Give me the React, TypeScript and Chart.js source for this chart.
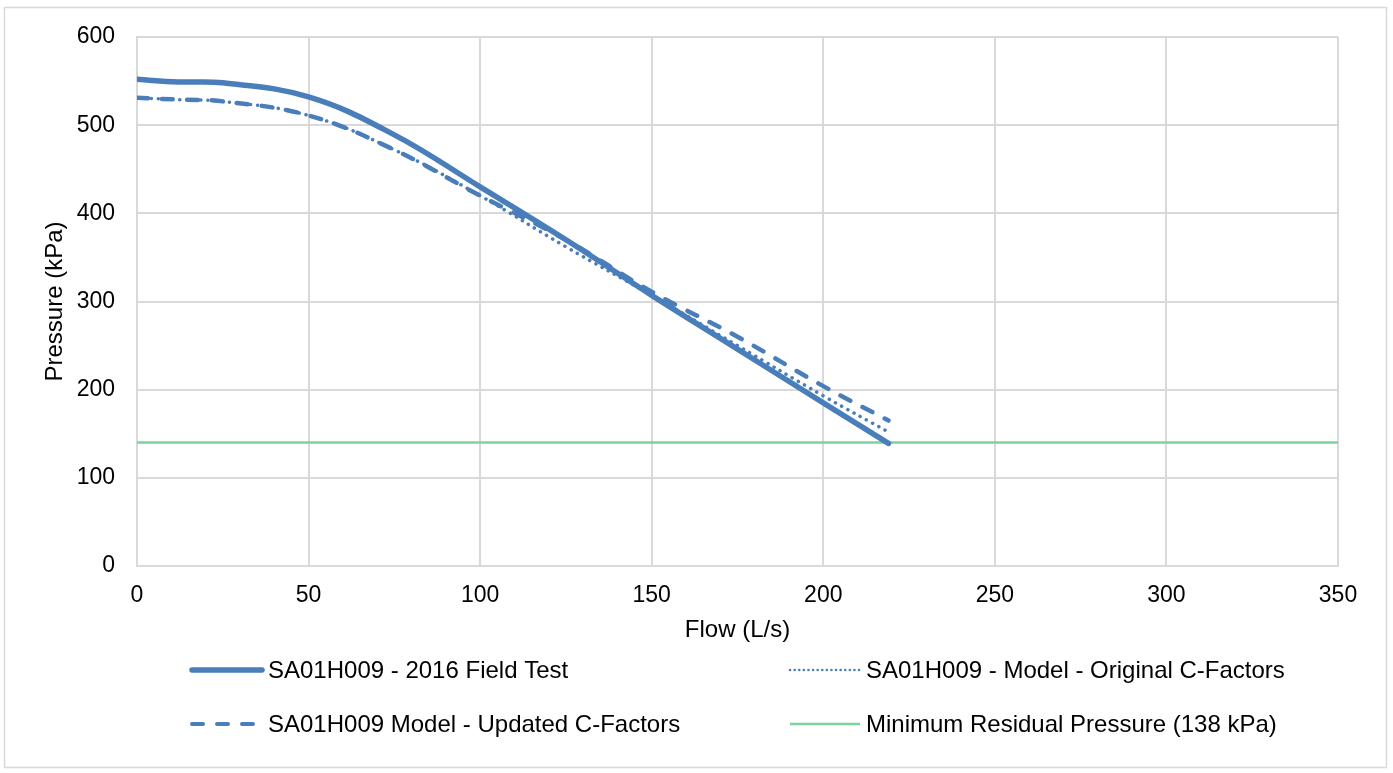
import React, { useEffect, useRef } from 'react';
import { Chart, registerables } from 'chart.js';

Chart.register(...registerables);

// ---- data ----
const flowFieldTest = [0, 12, 25, 50, 75, 100, 125, 150, 175, 200, 219];
const pressureFieldTest = [552, 549, 548, 532, 489, 430, 370, 307, 246, 185, 139];

const flowModel = [0, 12, 25, 50, 75, 100, 125, 150, 175, 200, 219];
const pressureOriginal = [531, 529, 527, 511, 472, 420, 362, 307, 250, 193, 152];
const pressureUpdated = [531, 529, 527, 511, 472, 420, 370, 311, 260, 204, 165];

const flowMinimum = [0, 350];
const pressureMinimum = [140, 140];

const seriesLabels = [
  'SA01H009 - 2016 Field Test',
  'SA01H009 - Model - Original C-Factors',
  'SA01H009 Model - Updated C-Factors',
  'Minimum Residual Pressure (138 kPa)',
];

const xTitle = 'Flow (L/s)';
const yTitle = 'Pressure (kPa)';

const BLUE = '#4a7ebb';
const GREEN = '#7dd3a0';
const GRID = '#d9d9d9';
const FONT = "'Liberation Sans', Arial, sans-serif";

const toPoints = (xs: number[], ys: number[]) => xs.map((x, i) => ({ x, y: ys[i] }));

const frameLegendPlugin = {
  id: 'frameLegend',
  beforeDraw(chart: any) {
    const { ctx, width, height } = chart;
    ctx.save();
    ctx.fillStyle = '#ffffff';
    ctx.fillRect(0, 0, width, height);
    ctx.strokeStyle = GRID;
    ctx.lineWidth = 1.5;
    ctx.strokeRect(4.5, 7.5, 1382, 760);
    ctx.restore();
  },
  afterDraw(chart: any) {
    const { ctx } = chart;
    const slots = [
      { x: 192, y: 670 },
      { x: 790, y: 670 },
      { x: 192, y: 724 },
      { x: 790, y: 724 },
    ];
    ctx.save();
    chart.data.datasets.forEach((ds: any, i: number) => {
      const s = slots[i];
      ctx.beginPath();
      ctx.strokeStyle = ds.borderColor;
      ctx.lineWidth = ds.legendWidth || ds.borderWidth;
      ctx.lineCap = ds.borderCapStyle || 'butt';
      ctx.setLineDash(ds.legendDash || []);
      ctx.moveTo(s.x, s.y);
      ctx.lineTo(s.x + 70, s.y);
      ctx.stroke();
      ctx.setLineDash([]);
      ctx.fillStyle = '#000000';
      ctx.font = `24px ${FONT}`;
      ctx.textAlign = 'left';
      ctx.textBaseline = 'middle';
      ctx.fillText(ds.label, s.x + 76, s.y + 1);
    });
    ctx.restore();
  },
};

export default function App() {
  const canvasRef = useRef<HTMLCanvasElement | null>(null);

  useEffect(() => {
    if (!canvasRef.current) return;
    const chart = new Chart(canvasRef.current, {
      type: 'line',
      data: {
        datasets: [
          {
            label: seriesLabels[0],
            data: toPoints(flowFieldTest, pressureFieldTest),
            borderColor: BLUE,
            borderWidth: 5.5,
            borderCapStyle: 'round',
            borderJoinStyle: 'round',
            pointRadius: 0,
            tension: 0.4,
            fill: false,
            legendDash: [],
          } as any,
          {
            label: seriesLabels[1],
            data: toPoints(flowModel, pressureOriginal),
            borderColor: BLUE,
            borderWidth: 3.5,
            borderCapStyle: 'round',
            borderDash: [0.1, 7],
            pointRadius: 0,
            tension: 0.4,
            fill: false,
            legendDash: [0.1, 4.5],
            legendWidth: 2.5,
          } as any,
          {
            label: seriesLabels[2],
            data: toPoints(flowModel, pressureUpdated),
            borderColor: BLUE,
            borderWidth: 4.5,
            borderCapStyle: 'round',
            borderDash: [11, 14],
            pointRadius: 0,
            tension: 0.4,
            fill: false,
            legendDash: [11, 14],
            legendWidth: 4,
          } as any,
          {
            label: seriesLabels[3],
            data: toPoints(flowMinimum, pressureMinimum),
            borderColor: GREEN,
            borderWidth: 2.5,
            pointRadius: 0,
            fill: false,
            legendDash: [],
          } as any,
        ],
      },
      options: {
        animation: false,
        responsive: false,
        maintainAspectRatio: false,
        devicePixelRatio: 1,
        layout: { padding: { left: 0, top: 37, right: 55, bottom: 122 } },
        plugins: {
          legend: { display: false },
          tooltip: { enabled: false },
        },
        scales: {
          x: {
            type: 'linear',
            min: 0,
            max: 350,
            ticks: {
              stepSize: 50,
              color: '#000',
              padding: 16,
              font: { family: FONT, size: 23 },
            },
            grid: { color: GRID, lineWidth: 2, drawTicks: false },
            border: { color: GRID, width: 2 },
            title: {
              display: true,
              text: xTitle,
              color: '#000',
              font: { family: FONT, size: 24 },
              padding: { top: 0, bottom: 6 },
            },
            afterFit: (scale: any) => {
              scale.height = 85;
            },
          },
          y: {
            type: 'linear',
            min: 0,
            max: 600,
            ticks: {
              stepSize: 100,
              color: '#000',
              padding: 22,
              font: { family: FONT, size: 23 },
            },
            grid: { color: GRID, lineWidth: 2, drawTicks: false },
            border: { color: GRID, width: 2 },
            title: {
              display: true,
              text: yTitle,
              color: '#000',
              font: { family: FONT, size: 24 },
              padding: { top: 41, bottom: 0 },
            },
            afterFit: (scale: any) => {
              scale.width = 137;
            },
          },
        },
      } as any,
      plugins: [frameLegendPlugin],
    });
    return () => chart.destroy();
  }, []);

  return (
    <div style={{ position: 'absolute', left: 0, top: 0, width: 1393, height: 773, background: '#fff' }}>
      <canvas ref={canvasRef} width={1393} height={773} style={{ display: 'block', width: 1393, height: 773 }} />
    </div>
  );
}
